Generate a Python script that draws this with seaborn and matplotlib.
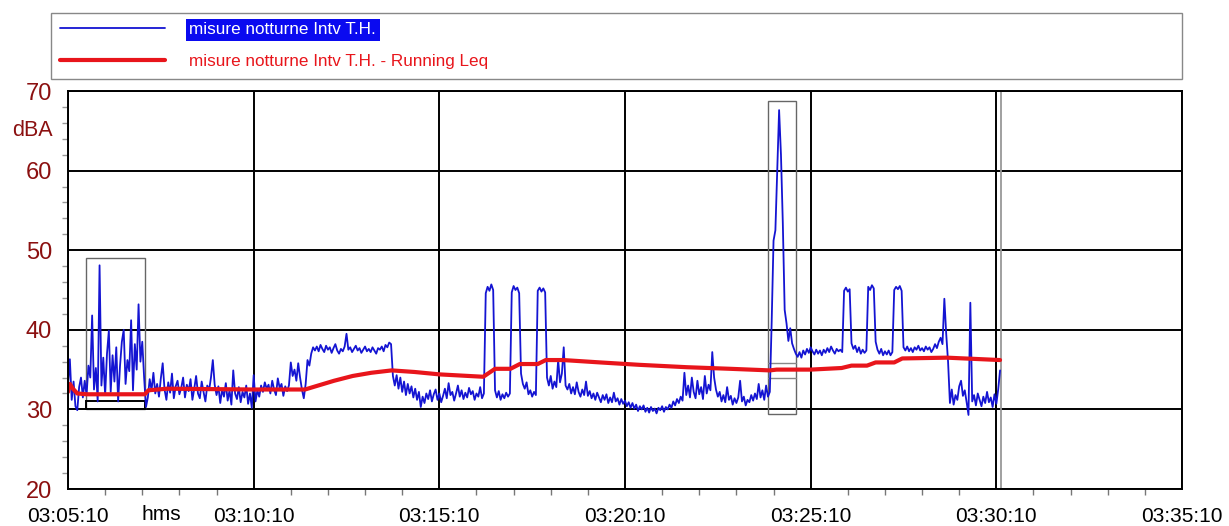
import matplotlib
matplotlib.use("Agg")
import matplotlib.pyplot as plt
import matplotlib.ticker as mticker
from matplotlib.patches import Rectangle
import numpy as np
import seaborn as sns

# recording start and sampling step of the level series
START = "03:05:10"
STEP_S = 3

# LAeq short levels (dBA), one value every STEP_S seconds
levels = [
    33.0, 36.3, 31.2, 33.5, 30.4, 29.9, 32.8, 34.0, 31.5, 33.6,
    31.8, 35.5, 34.0, 41.8, 32.5, 35.2, 31.0, 48.1, 33.0, 36.5,
    31.8, 37.0, 39.9, 32.2, 36.8, 33.5, 37.8, 31.0, 35.4, 38.5,
    40.0, 33.2, 36.2, 34.8, 41.2, 32.4, 38.2, 35.0, 43.2, 36.0,
    38.5, 34.0, 30.3, 31.5, 33.8, 32.4, 34.6, 32.0, 33.2, 31.6,
    33.9, 35.8, 32.5, 31.2, 33.4, 32.1, 34.5, 31.4, 32.9, 33.6,
    31.9, 32.7, 34.0, 31.5, 33.1, 32.3, 33.8, 31.2, 32.6, 34.2,
    32.0, 31.4, 33.5, 32.2, 31.0, 33.0, 32.4, 34.0, 36.2, 33.1,
    31.8, 32.9, 30.8, 32.5, 31.6, 33.3, 31.1, 32.4, 30.6, 34.9,
    32.0, 31.3, 32.8, 30.9, 32.2, 31.5, 33.0, 30.7, 32.0, 30.2,
    34.3, 31.0, 32.4, 31.6, 33.0, 32.2, 33.4, 32.6, 33.1, 32.0,
    33.6, 32.5, 31.8, 33.9, 32.7, 33.2, 31.7, 32.9, 32.3, 33.0,
    35.9, 34.2, 35.0, 33.6, 35.8, 34.0, 32.5, 31.4, 33.2, 36.2,
    35.5, 37.0, 37.8, 37.4, 37.9, 37.3, 38.1, 37.6, 37.2, 38.0,
    37.5, 37.8, 37.1, 37.7, 38.2, 37.4, 37.0, 37.6, 37.3, 37.9,
    39.5, 37.5, 37.8, 37.2, 37.6, 38.0, 37.4, 37.7, 37.1, 37.5,
    37.9, 37.3, 37.6, 37.2, 37.8, 37.4, 37.0, 37.7, 37.5, 37.9,
    37.3, 38.1, 37.8, 38.4, 38.2, 34.2, 33.0, 34.3, 32.6, 34.0,
    32.2, 33.5, 31.8, 33.2, 32.0, 32.9, 31.5, 32.6, 31.2, 32.2,
    30.3, 31.6, 30.8, 32.0, 31.3, 32.4, 31.0, 31.9, 32.5, 31.2,
    32.0, 30.9, 31.7, 32.6, 31.4, 33.3, 31.8, 32.2, 31.1, 32.0,
    33.0, 31.6, 32.4, 31.3, 32.1, 31.5, 32.7, 31.9, 32.3, 31.2,
    32.0, 31.6, 32.8, 31.4, 32.0, 44.6, 45.4, 44.9, 45.7, 45.0,
    32.4, 31.5, 32.3, 31.2, 31.9, 31.4, 32.1, 31.6, 32.0, 44.7,
    45.5, 45.0, 45.3, 44.6, 34.5, 33.2, 32.6, 33.4, 31.9, 32.4,
    31.6, 32.2, 31.8, 44.9, 45.3, 44.8, 45.2, 44.7, 34.0, 33.0,
    34.2, 32.6, 33.5, 32.8, 36.2, 33.4, 34.5, 37.8, 33.0, 32.5,
    33.2, 32.0, 32.8, 31.9, 33.4, 32.2, 31.6, 32.5, 31.8, 33.5,
    31.7, 32.3, 31.4, 32.0, 31.2, 32.1, 31.5, 30.9, 31.8, 31.2,
    31.9, 30.8, 31.5, 30.9, 32.1, 31.0, 31.4, 30.6, 31.3, 30.7,
    31.1, 30.4, 30.9, 30.2, 30.8, 30.1, 30.6, 29.8, 30.4, 30.0,
    30.5, 29.7, 30.2, 29.6, 30.3, 29.8, 30.1, 29.5, 30.2, 29.9,
    30.4, 29.7, 30.3, 30.0, 30.6, 30.2, 31.0, 30.5, 31.3, 30.8,
    31.6, 31.1, 34.6, 31.8, 33.0, 31.5, 34.0, 32.2, 31.4, 33.6,
    31.9, 32.8, 31.3, 34.2, 32.0, 33.1, 32.4, 37.2, 34.0, 32.5,
    31.6, 32.2, 31.0, 31.8, 30.9, 32.8, 31.2, 31.7, 30.6, 31.4,
    30.8, 31.5, 33.6, 31.0, 31.6, 30.5, 31.2, 30.9, 31.8, 31.1,
    32.0, 31.3, 33.2, 31.5, 32.4, 31.2, 33.0, 31.6, 32.2, 41.0,
    51.2, 52.5, 60.0, 67.6, 62.0, 53.4, 42.5, 40.8, 38.6, 40.2,
    38.3, 37.6, 37.0, 36.6, 37.2, 36.5, 37.4, 36.9, 37.6, 37.1,
    37.8, 37.3, 36.9, 37.5, 37.0, 37.4, 36.8, 37.5, 37.1, 37.7,
    37.2, 37.9, 37.4, 37.0, 37.6, 37.3, 37.5, 37.2, 44.9, 45.3,
    44.8, 45.1, 38.3, 37.6, 38.0, 37.2, 37.8, 37.0, 37.5, 37.1,
    37.4, 45.4, 45.0, 45.6, 45.2, 38.5, 37.5, 37.0, 37.6, 36.8,
    37.3, 36.9, 37.4, 36.8, 37.2, 45.0, 45.4, 45.1, 45.5, 44.9,
    37.8, 37.4, 37.9, 37.3, 37.7, 37.2, 37.8, 37.5, 38.0, 37.4,
    37.7, 37.3, 37.9, 37.5, 37.8, 37.2, 37.6, 38.2, 37.7, 38.5,
    39.0, 38.2, 43.9, 39.5, 36.0, 30.8, 32.5, 30.6, 31.8, 31.2,
    32.9, 33.6, 31.7, 32.4, 30.9, 29.3, 43.4, 31.0, 31.8, 30.5,
    32.0, 31.2, 30.4, 31.6, 30.8, 32.2, 30.9, 31.5, 30.3, 31.9,
    30.7, 32.5, 34.9,
]

# running Leq (seconds from start, dBA)
leq_t = [0, 3, 8, 15, 30, 124, 130, 160, 300, 383, 400, 430, 460, 490, 523,
         560, 600, 671, 690, 715, 730, 759, 772, 800, 860, 923, 1000, 1070,
         1134, 1145, 1200, 1250, 1266, 1291, 1305, 1335, 1348, 1420, 1506]
leq_v = [32.2, 33.2, 32.6, 32.0, 31.9, 31.9, 32.4, 32.6, 32.5, 32.5, 32.9,
         33.6, 34.2, 34.6, 34.9, 34.7, 34.4, 34.1, 35.1, 35.1, 35.7, 35.7,
         36.2, 36.2, 35.9, 35.6, 35.3, 35.1, 34.9, 35.0, 35.0, 35.2, 35.5,
         35.5, 35.9, 35.9, 36.4, 36.5, 36.2]

# marked windows in the analyser (t0, t1, dB low, dB high) and cursor
windows = [(29, 124, 30.0, 49.0), (1131, 1176, 29.4, 68.7)]
cursor_t = 1508

labels = ["misure notturne Intv T.H.", "misure notturne Intv T.H. - Running Leq"]

BLUE = "#1414d2"
RED = "#e8151b"
DARKRED = "#8b1010"

sns.set_style("white")
plt.rcParams["font.family"] = ["Liberation Sans", "DejaVu Sans"]

h0, m0, s0 = (int(p) for p in START.split(":"))
start_s = h0 * 3600 + m0 * 60 + s0
t = np.arange(len(levels)) * STEP_S


def hms(x, pos=None):
    v = int(round(start_s + x))
    return f"{v // 3600:02d}:{v % 3600 // 60:02d}:{v % 60:02d}"


fig = plt.figure(figsize=(12.29, 5.26), dpi=100)
ax = fig.add_axes([68 / 1229, 37 / 526, 1114 / 1229, 398 / 526])

sns.lineplot(x=t, y=levels, ax=ax, color=BLUE, linewidth=1.3, label=labels[0])
sns.lineplot(x=leq_t, y=leq_v, ax=ax, color=RED, linewidth=3.0, label=labels[1])

ax.set_xlim(0, 1800)
ax.set_ylim(20, 70)
ax.xaxis.set_major_locator(mticker.MultipleLocator(300))
ax.xaxis.set_minor_locator(mticker.MultipleLocator(60))
ax.xaxis.set_major_formatter(mticker.FuncFormatter(hms))
ax.yaxis.set_major_locator(mticker.MultipleLocator(10))
ax.yaxis.set_minor_locator(mticker.MultipleLocator(2))
ax.grid(True, which="major", color="black", linewidth=1.4)
ax.set_axisbelow(True)
for sp in ax.spines.values():
    sp.set_color("black")
    sp.set_linewidth(1.4)

ax.tick_params(axis="x", which="major", direction="out", length=10, width=1,
               color="#777777", labelsize=15, pad=3, labelcolor="black")
ax.tick_params(axis="x", which="minor", direction="out", length=4.5, width=1,
               color="#777777", bottom=True)
ax.tick_params(axis="y", which="major", direction="out", length=11, width=1,
               color="#777777", labelsize=17, pad=0.5, labelcolor=DARKRED)
ax.tick_params(axis="y", which="minor", direction="out", length=4.5, width=1,
               color="#999999", left=True)
ax.set_xlabel("")
ax.set_ylabel("")

for (a, b, lo, hi) in windows:
    ax.add_patch(Rectangle((a, lo), b - a, hi - lo, fill=False,
                           edgecolor="#666666", linewidth=1.0, zorder=1.5))
ax.add_patch(Rectangle((windows[0][0], 30.0), windows[0][1] - windows[0][0], 1.1,
                       fill=False, edgecolor="black", linewidth=1.4, zorder=1.5))
for lv in (34.0, 35.8):
    ax.plot([windows[1][0], windows[1][1]], [lv, lv], color="#888888",
            linewidth=1.0, zorder=1.5)
ax.axvline(cursor_t, color="#999999", linewidth=1.3, zorder=1.5)

fig.text(32 / 1229, 1 - 131 / 526, "dBA", color=DARKRED, fontsize=15.5,
         ha="center", va="center")
fig.text(161 / 1229, 1 - 514 / 526, "hms", color="black", fontsize=15,
         ha="center", va="center")

handles, _ = ax.get_legend_handles_labels()
ax.get_legend().remove()
leg = fig.legend(handles, labels, loc="upper left",
                 bbox_to_anchor=(51 / 1229, 1 - 77 / 526, 1131 / 1229, 64 / 526),
                 mode="expand", borderaxespad=0, fontsize=12.3, frameon=True,
                 fancybox=False, edgecolor="#888888", framealpha=1,
                 handlelength=6.1, handletextpad=1.45, labelspacing=1.0,
                 borderpad=0.55)
leg.get_frame().set_linewidth(1.0)
txt0, txt1 = leg.get_texts()
txt0.set_color("white")
txt0.set_bbox(dict(facecolor="#0a0af0", edgecolor="none", pad=2.5))
txt1.set_color(RED)

fig.savefig("out.png", dpi=100)
